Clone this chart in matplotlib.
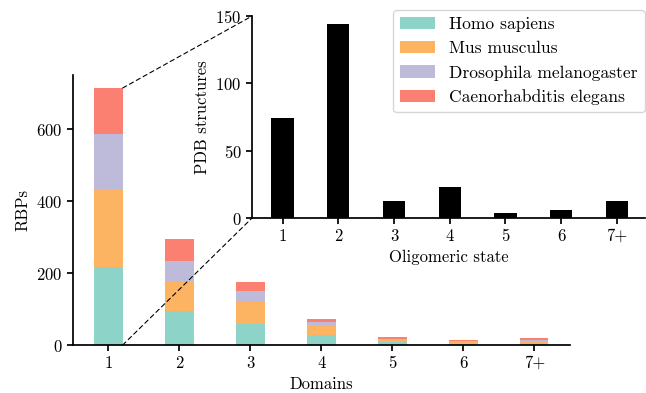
import matplotlib
matplotlib.use("Agg")
import matplotlib.pyplot as plt
import numpy as np
from matplotlib.patches import ConnectionPatch

plt.rcParams['font.family'] = 'serif'
plt.rcParams['font.serif'] = ['cmr10', 'DejaVu Serif']
plt.rcParams['axes.formatter.use_mathtext'] = True
plt.rcParams['mathtext.fontset'] = 'cm'
plt.rcParams['font.size'] = 12

domains = ['1', '2', '3', '4', '5', '6', '7+']
species = ['Homo sapiens', 'Mus musculus', 'Drosophila melanogaster', 'Caenorhabditis elegans']
homo = [217, 94, 58, 27, 8, 3, 6]
mus = [216, 81, 62, 28, 6, 7, 5]
dros = [153, 58, 30, 8, 4, 1, 4]
cel = [128, 61, 25, 8, 3, 4, 4]

oligo = ['1', '2', '3', '4', '5', '6', '7+']
pdb = [74, 144, 13, 23, 4, 6, 13]

colors = ['#8dd3c7', '#fdb462', '#bebada', '#fb8072']

fig = plt.figure(figsize=(6.46, 3.93), dpi=100)
ax = fig.add_axes([0.113, 0.122, 0.769, 0.687])

x = np.arange(len(domains))
w = 0.4
bottom = np.zeros(len(domains))
for vals, c, lab in zip([homo, mus, dros, cel], colors, species):
    ax.bar(x, vals, w, bottom=bottom, color=c, label=lab)
    bottom += np.array(vals)

ax.set_xticks(x)
ax.set_xticklabels(domains)
ax.set_xlim(-0.5, 6.5)
ax.set_ylim(0, 750)
ax.set_yticks([0, 200, 400, 600])
ax.set_xlabel('Domains')
ax.set_ylabel('RBPs')

ins = fig.add_axes([0.390, 0.445, 0.608, 0.514])
xi = np.arange(len(oligo))
ins.bar(xi, pdb, w, color='black')
ins.set_xticks(xi)
ins.set_xticklabels(oligo)
ins.set_xlim(-0.55, 6.5)
ins.set_ylim(0, 150)
ins.set_yticks([0, 50, 100, 150])
ins.set_xlabel('Oligomeric state')
ins.set_ylabel('PDB structures')

for a in (ax, ins):
    for s in ('top', 'right'):
        a.spines[s].set_visible(False)
    for s in ('left', 'bottom'):
        a.spines[s].set_linewidth(1.25)
    a.tick_params(width=1.25, length=4)

handles, labels = ax.get_legend_handles_labels()
ins.legend(handles, labels, loc='upper right', bbox_to_anchor=(1.0, 1.03),
           borderaxespad=0, fontsize=12.6, handlelength=2.0, borderpad=0.4,
           labelspacing=0.5)

# dashed zoom lines from bar 1 to inset
top1 = homo[0] + mus[0] + dros[0] + cel[0]
for yv, yi in [(top1, 1), (0, 0)]:
    con = ConnectionPatch(xyA=(x[0] + w / 2, yv), coordsA=ax.transData,
                          xyB=(0, yi), coordsB=ins.transAxes,
                          linestyle=(0, (4, 3)), color='black', linewidth=0.8)
    fig.add_artist(con)

fig.savefig('out.png', dpi=100)
